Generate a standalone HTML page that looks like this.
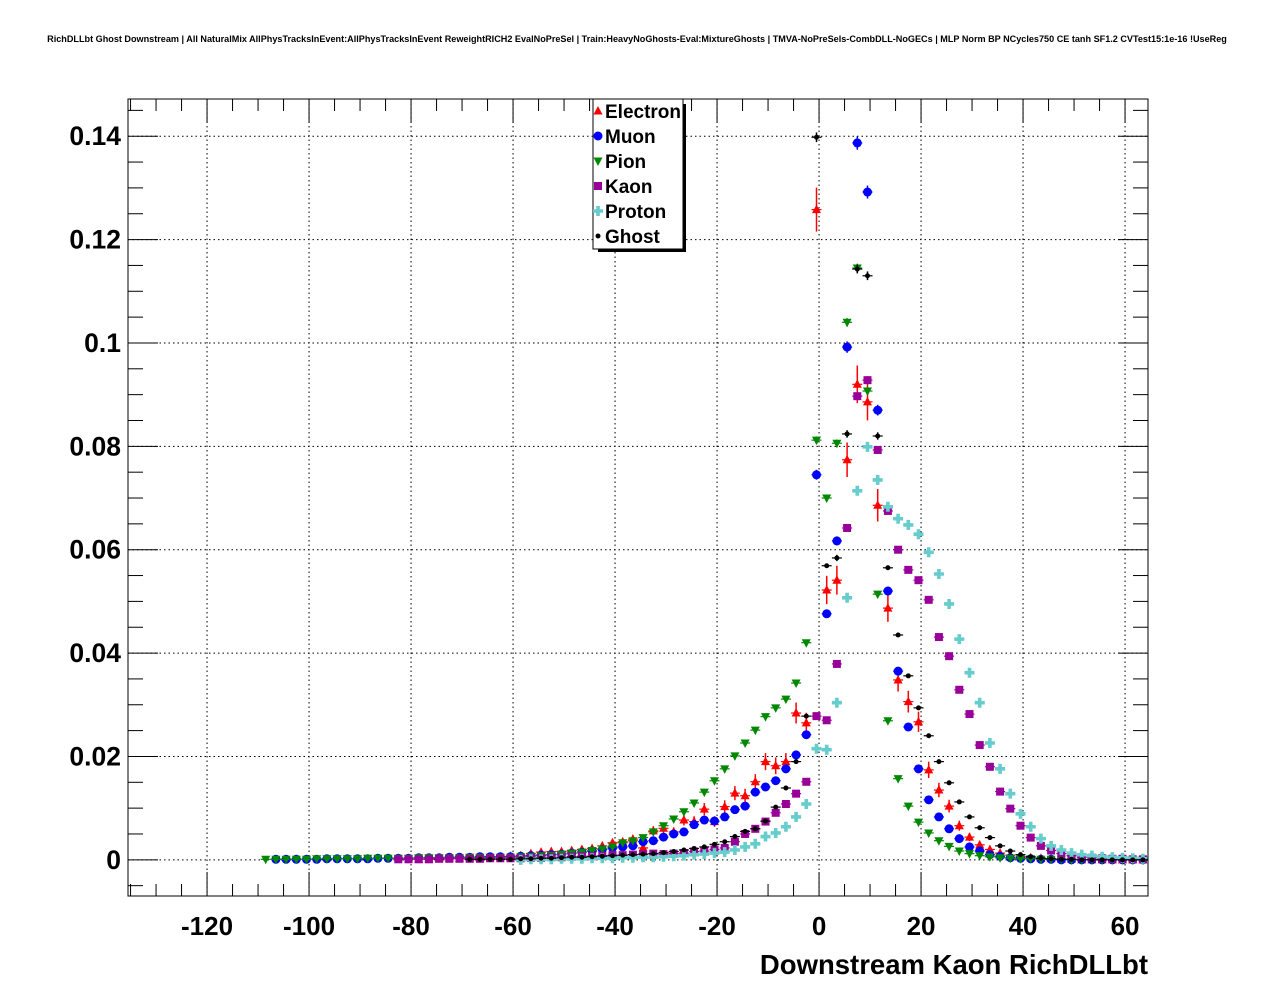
<!DOCTYPE html>
<html><head><meta charset="utf-8"><style>
body{margin:0;background:#fff;width:1276px;height:996px;overflow:hidden;font-family:"Liberation Sans",sans-serif}
svg text{font-family:"Liberation Sans",sans-serif;font-weight:bold}
</style></head><body>
<svg id="chart" width="1276" height="996" xmlns="http://www.w3.org/2000/svg">
<text x="637" y="42" font-size="9.1" text-anchor="middle">RichDLLbt Ghost Downstream | All NaturalMix AllPhysTracksInEvent:AllPhysTracksInEvent ReweightRICH2 EvalNoPreSel | Train:HeavyNoGhosts-Eval:MixtureGhosts | TMVA-NoPreSels-CombDLL-NoGECs | MLP Norm BP NCycles750 CE tanh SF1.2 CVTest15:1e-16 !UseReg</text>
<g id="grid"></g>
<g id="marks"></g>
<rect x="128" y="99" width="1020" height="797" fill="none" stroke="#000" stroke-width="1"/>
<g id="axes"></g>
<text x="1148" y="974" font-size="27.5" text-anchor="end">Downstream Kaon RichDLLbt</text>
<g id="legend"></g>
</svg>
<script>
const startCenter = -60.5;
const binWidth = 2;
const seriesNames = ["Electron","Muon","Pion","Kaon","Proton","Ghost"];
const seriesColors = ["#ff0000","#0000ff","#008800","#990099","#66cccc","#000000"];
const xTicks = [-120,-100,-80,-60,-40,-20,0,20,40,60];
const yTicks = [0,0.02,0.04,0.06,0.08,0.1,0.12,0.14];
const yTickLabels = ["0","0.02","0.04","0.06","0.08","0.1","0.12","0.14"];
// left tails (centres -108.5 .. -62.5, 24 bins)
const electronTail = [0,0,0,0,0,0,0,0,0,0,0,0,0,0,0,0.0001,0.0002,0.0002,0.0003,0.0003,0.0004,0.0004,0.0005,0.0006];
const muonTail = [0,0.0001,0.0001,0.0001,0.0001,0.0001,0.0002,0.0002,0.0002,0.0002,0.0002,0.0003,0.0003,0.0003,0.0003,0.0004,0.0004,0.0004,0.0005,0.0005,0.0005,0.0006,0.0006,0.0006];
const pionTail = [0.0001,0.0001,0.0001,0.0001,0.0001,0.0002,0.0002,0.0002,0.0002,0.0002,0.0003,0.0003,0.0003,0.0003,0.0003,0.0004,0.0004,0.0004,0.0004,0.0004,0.0005,0.0005,0.0005,0.0005];
const kaonTail = [0,0,0,0,0,0,0,0,0,0,0,0,0,0.0001,0.0001,0.0001,0.0001,0.0002,0.0002,0.0002,0.0002,0.0002,0.0003,0.0003];
const protonTail = [0,0,0,0,0,0,0,0,0,0,0,0,0,0,0,0,0,0,0,0,0,0,0,0];
const ghostTail = [0,0,0,0,0,0,0,0,0,0,0,0,0,0,0,0,0,0,0,0,0.0001,0.0001,0.0001,0.0001];
// main values, centres -60.5 .. 63.5 (63 bins)
const electron = [0.0007,0.0008,0.0012,0.0015,0.0016,0.0016,0.0018,0.002,0.0022,0.0027,0.0033,0.0035,0.004,0.0023,0.0056,0.0061,0.0054,0.0077,0.0074,0.0098,0.0074,0.0103,0.0129,0.0124,0.0151,0.019,0.0182,0.019,0.0284,0.0265,0.1258,0.0522,0.0541,0.0774,0.092,0.0886,0.0686,0.0487,0.0348,0.0306,0.0267,0.0174,0.0135,0.0104,0.0066,0.0044,0.0029,0.002,0.0013,0.0009,0.0006,0.0004,0.0003,0.0002,0.0001,0.0001,0,0,0,0,0,0,0];
const muon = [0.0006,0.0007,0.0008,0.0009,0.001,0.0011,0.0013,0.0015,0.0017,0.002,0.0023,0.0025,0.0027,0.0035,0.0037,0.0044,0.005,0.0054,0.0068,0.0077,0.0075,0.0083,0.0097,0.0104,0.0131,0.0141,0.0153,0.0176,0.0203,0.0242,0.0745,0.0476,0.0617,0.0992,0.1387,0.1292,0.087,0.052,0.0365,0.0257,0.0176,0.0116,0.0083,0.006,0.0041,0.0025,0.0017,0.001,0.0007,0.0004,0.0003,0.0002,0.0001,0.0001,0,0,0,0,0,0,0,0,0];
const pion = [0.0005,0.0006,0.0007,0.0008,0.0009,0.0011,0.0013,0.0015,0.0018,0.0021,0.0025,0.0033,0.0037,0.0043,0.0054,0.0066,0.0079,0.0093,0.011,0.0131,0.0153,0.0176,0.0201,0.0226,0.0251,0.0277,0.0294,0.0311,0.0342,0.042,0.0812,0.070,0.0806,0.104,0.1145,0.0907,0.0514,0.0269,0.0157,0.0104,0.0073,0.0052,0.0037,0.0026,0.0017,0.0012,0.0008,0.0006,0.0004,0.0003,0.0002,0.0002,0.0001,0.0001,0.0001,0,0,0,0,0,0,0,0];
const kaon = [0.0003,0.0003,0.0004,0.0004,0.0005,0.0005,0.0006,0.0007,0.0007,0.0008,0.0009,0.0009,0.001,0.0011,0.0012,0.0011,0.0012,0.0013,0.0016,0.0017,0.002,0.0023,0.0035,0.005,0.006,0.0074,0.0091,0.0108,0.0128,0.0151,0.0278,0.027,0.0379,0.0642,0.0897,0.0928,0.0793,0.0675,0.06,0.0561,0.0541,0.0503,0.0431,0.0394,0.0329,0.0282,0.0222,0.018,0.0132,0.0099,0.0066,0.0043,0.0027,0.0018,0.0012,0.0008,0.0005,0.0004,0.0003,0.0002,0.0002,0.0001,0.0001];
const proton = [0,0,0.0001,0.0001,0.0001,0.0002,0.0002,0.0002,0.0003,0.0003,0.0003,0.0004,0.0004,0.0005,0.0005,0.0006,0.0007,0.0008,0.001,0.0011,0.0013,0.0015,0.0019,0.0025,0.0031,0.0045,0.0052,0.0064,0.0083,0.0108,0.0215,0.0213,0.0304,0.0507,0.0714,0.0799,0.0735,0.0683,0.066,0.0648,0.063,0.0595,0.0553,0.0495,0.0427,0.0362,0.0304,0.0226,0.0176,0.0128,0.0089,0.0064,0.0041,0.0027,0.0019,0.0013,0.001,0.0008,0.0006,0.0005,0.0004,0.0003,0.0002];
const ghost = [0.0001,0.0002,0.0002,0.0003,0.0003,0.0004,0.0005,0.0005,0.0006,0.0007,0.0008,0.0009,0.001,0.0011,0.0012,0.0014,0.0016,0.0019,0.0022,0.0025,0.003,0.0035,0.0045,0.0055,0.006,0.0075,0.0102,0.0139,0.019,0.0278,0.1398,0.0569,0.0584,0.0824,0.1143,0.113,0.082,0.0565,0.0435,0.0356,0.0294,0.024,0.019,0.0149,0.0112,0.0083,0.0062,0.0043,0.0027,0.0017,0.001,0.0006,0.0003,0.0002,0.0001,0.0001,0,0,0,0,0,0,0];

const X0=128,X1=1148,Y0=99,Y1=896, xmin=-135.5,xmax=64.5, ymin=-0.0070,ymax=0.1472;
const sx = v => X0+(v-xmin)/(xmax-xmin)*(X1-X0);
const sy = v => Y1-(v-ymin)/(ymax-ymin)*(Y1-Y0);
const NS="http://www.w3.org/2000/svg";
function mk(tag,attrs,parent){const e=document.createElementNS(NS,tag);for(const k in attrs)e.setAttribute(k,attrs[k]);parent.appendChild(e);return e;}
const grid=document.getElementById('grid'), axes=document.getElementById('axes'), marks=document.getElementById('marks'), legend=document.getElementById('legend');
xTicks.forEach(t=>{const l=mk('line',{x1:sx(t),x2:sx(t),y1:Y0,y2:Y1,stroke:'#000','stroke-dasharray':'1.5,3','stroke-width':1},grid);

});
yTicks.forEach(t=>{const l=mk('line',{x1:X0,x2:X1,y1:sy(t),y2:sy(t),stroke:'#000','stroke-dasharray':'1.5,3','stroke-width':1},grid);

});
for(let v=-135;v<=64;v+=5){const maj=(v%20===0);const L=maj?24:12;const x=sx(v);
mk('line',{x1:x,x2:x,y1:Y1,y2:Y1-L,stroke:'#000'},axes);mk('line',{x1:x,x2:x,y1:Y0,y2:Y0+L,stroke:'#000'},axes);}
xTicks.forEach(t=>{const tx=mk('text',{x:sx(t),y:935,'font-size':26,'text-anchor':'middle'},axes);tx.textContent=String(t);

});
for(let i=-1;i<=29;i++){const v=i*0.005;if(v<ymin||v>ymax)continue;const maj=(i%4===0);const L=maj?30:15;const y=sy(v);
mk('line',{x1:X0,x2:X0+L,y1:y,y2:y,stroke:'#000'},axes);mk('line',{x1:X1,x2:X1-L,y1:y,y2:y,stroke:'#000'},axes);}
yTicks.forEach((t,i)=>{const tx=mk('text',{x:121,y:sy(t)+9,'font-size':26.5,'text-anchor':'end'},axes);tx.textContent=yTickLabels[i];

});

function marker(g,type,x,y,c){
 if(type===0)mk('polygon',{points:`${x},${y-5} ${x-4.5},${y+3.5} ${x+4.5},${y+3.5}`,fill:c},g);
 else if(type===1)mk('circle',{cx:x,cy:y,r:4.5,fill:c},g);
 else if(type===2)mk('polygon',{points:`${x-4.5},${y-3.5} ${x+4.5},${y-3.5} ${x},${y+5}`,fill:c},g);
 else if(type===3)mk('rect',{x:x-4,y:y-4,width:8,height:8,fill:c},g);
 else if(type===4)mk('path',{d:`M${x-1.8},${y-5}h3.6v3.2h3.2v3.6h-3.2v3.2h-3.6v-3.2h-3.2v-3.6h3.2z`,fill:c},g);
 else mk('circle',{cx:x,cy:y,r:2.5,fill:c},g);
}
const allSeries=[electronTail.concat(electron),muonTail.concat(muon),pionTail.concat(pion),kaonTail.concat(kaon),protonTail.concat(proton),ghostTail.concat(ghost)];
const firstCenter=startCenter-binWidth*electronTail.length;
const errScale=[0.012,0.0035,0.0025,0.0025,0.0025,0.0025];
allSeries.forEach((vals,si)=>{
 const g=mk('g',{},marks);
 
 
 vals.forEach((v,i)=>{
  const c=firstCenter+i*binWidth; if(c>64)return;
  if(v===0 && c<-60)return;
  const x=sx(c), y=sy(v), col=seriesColors[si];
  const e=errScale[si]*Math.sqrt(v);
  mk('line',{x1:x-5,x2:x+5,y1:y,y2:y,stroke:col,'stroke-width':1.2},g);
  if(e>0.0006)mk('line',{x1:x,x2:x,y1:sy(v+e),y2:sy(v-e),stroke:col,'stroke-width':1.5},g);
  marker(g,si,x,y,col);
 });
});
mk('rect',{x:598,y:104,width:88,height:148,fill:'#000'},legend);
mk('rect',{x:593,y:99,width:90,height:150,fill:'#fff',stroke:'#000'},legend);
seriesNames.forEach((n,i)=>{const y=111+i*25;
 const g=mk('g',{},legend);
 
 
 marker(g,i,598,y,seriesColors[i]);
 const t=mk('text',{x:605,y:y+7,'font-size':19},g);t.textContent=n;});
</script>
</body></html>
